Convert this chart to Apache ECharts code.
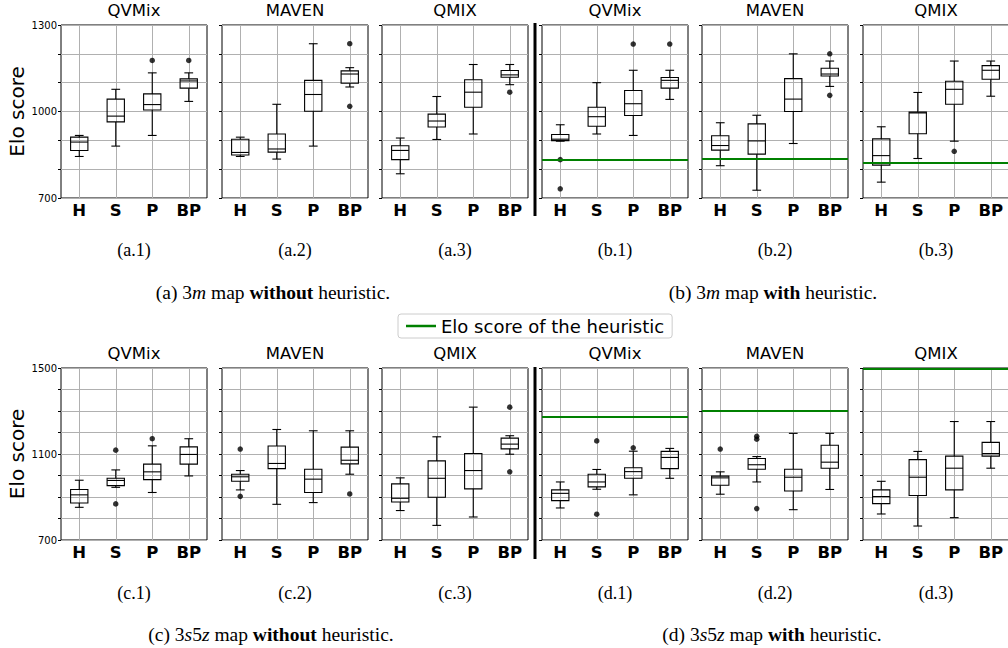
<!DOCTYPE html>
<html><head><meta charset="utf-8">
<script src="https://cdn.jsdelivr.net/npm/echarts@6/dist/echarts.min.js"></script>
<style>html,body{margin:0;padding:0;background:#fff}#c{width:1008px;height:648px}</style>
</head><body><div id="c"></div><script>
const categories = ['H', 'S', 'P', 'BP'];
const algorithms = ['QVMix', 'MAVEN', 'QMIX'];
const topTickLabels = [700, 1000, 1300];
const bottomTickLabels = [700, 1100, 1500];
const topRange = [700, 1300];
const bottomRange = [700, 1500];
const heuristicLegend = 'Elo score of the heuristic';
const panelLabels = ['(a.1)', '(a.2)', '(a.3)', '(b.1)', '(b.2)', '(b.3)', '(c.1)', '(c.2)', '(c.3)', '(d.1)', '(d.2)', '(d.3)'];

// each box: [whisker low, Q1, median, Q3, whisker high]
const a1Boxes = [[844, 865, 894, 911, 917], [880, 964, 984, 1043, 1077], [917, 1005, 1024, 1061, 1134], [1035, 1081, 1106, 1113, 1134]];
const a1Outliers = [['P', 1177], ['BP', 1177]];
const a2Boxes = [[844, 849, 858, 904, 911], [835, 859, 870, 922, 1025], [880, 1001, 1059, 1108, 1235], [1085, 1098, 1130, 1141, 1152]];
const a2Outliers = [['BP', 1235], ['BP', 1018]];
const a3Boxes = [[784, 833, 865, 881, 908], [903, 946, 967, 991, 1052], [922, 1015, 1067, 1110, 1163], [1093, 1119, 1127, 1142, 1163]];
const a3Outliers = [['BP', 1067]];

const b1Boxes = [[897, 899, 904, 920, 954], [922, 949, 982, 1015, 1100], [917, 986, 1027, 1073, 1143], [1042, 1081, 1108, 1118, 1143]];
const b1Outliers = [['H', 833], ['H', 732], ['P', 1234], ['BP', 1234]];
const b2Boxes = [[812, 866, 882, 916, 961], [727, 852, 898, 957, 987], [889, 1000, 1043, 1114, 1200], [1087, 1123, 1130, 1150, 1175]];
const b2Outliers = [['BP', 1200], ['BP', 1056]];
const b3Boxes = [[755, 814, 847, 905, 947], [837, 923, 995, 998, 1066], [897, 1025, 1077, 1105, 1175], [1053, 1112, 1143, 1159, 1175]];
const b3Outliers = [['P', 862]];
const heuristicB = [832, 835, 821];

const c1Boxes = [[852, 872, 910, 935, 978], [945, 953, 977, 987, 1026], [921, 981, 1017, 1053, 1138], [998, 1053, 1098, 1133, 1171]];
const c1Outliers = [['S', 1118], ['S', 868], ['P', 1171]];
const c2Boxes = [[933, 973, 994, 1006, 1023], [866, 1032, 1056, 1137, 1214], [874, 921, 983, 1029, 1208], [1006, 1054, 1071, 1132, 1208]];
const c2Outliers = [['H', 1123], ['H', 903], ['BP', 914]];
const c3Boxes = [[837, 877, 894, 961, 989], [768, 899, 987, 1068, 1180], [807, 938, 1023, 1102, 1318], [1099, 1124, 1146, 1174, 1185]];
const c3Outliers = [['BP', 1318], ['BP', 1017]];

const d1Boxes = [[849, 883, 917, 933, 970], [936, 947, 970, 1006, 1028], [910, 987, 1018, 1036, 1113], [987, 1032, 1084, 1112, 1126]];
const d1Outliers = [['S', 1161], ['S', 820], ['P', 1129]];
const d2Boxes = [[913, 955, 989, 997, 1017], [970, 1029, 1050, 1079, 1088], [841, 928, 992, 1029, 1196], [935, 1034, 1062, 1141, 1196]];
const d2Outliers = [['H', 1123], ['S', 1182], ['S', 1169], ['S', 846]];
const d3Boxes = [[821, 869, 902, 933, 973], [765, 907, 992, 1074, 1112], [804, 933, 1034, 1090, 1251], [1034, 1090, 1102, 1154, 1251]];
const d3Outliers = [];
const heuristicD = [1272, 1303, 1498];

// ---- layout (not data) ----
const colLeft = [61, 222, 382, 542, 702, 863];
const panelW = 146;
const rowTop = [25, 368];
const rowH = [173, 172];
const FONT = 'DejaVu Sans';
const SERIF = 'Liberation Serif';

const panels = [
  [a1Boxes, a1Outliers, null], [a2Boxes, a2Outliers, null], [a3Boxes, a3Outliers, null],
  [b1Boxes, b1Outliers, heuristicB[0]], [b2Boxes, b2Outliers, heuristicB[1]], [b3Boxes, b3Outliers, heuristicB[2]],
  [c1Boxes, c1Outliers, null], [c2Boxes, c2Outliers, null], [c3Boxes, c3Outliers, null],
  [d1Boxes, d1Outliers, heuristicD[0]], [d2Boxes, d2Outliers, heuristicD[1]], [d3Boxes, d3Outliers, heuristicD[2]]
];

function renderBox(params, api) {
  const idx = api.value(0);
  const pMin = api.coord([idx, api.value(1)]);
  const pQ1 = api.coord([idx, api.value(2)]);
  const pMed = api.coord([idx, api.value(3)]);
  const pQ3 = api.coord([idx, api.value(4)]);
  const pMax = api.coord([idx, api.value(5)]);
  const band = api.size([1, 0])[0];
  const hw = band * 0.237, cw = band * 0.12;
  const x = pMed[0];
  const st = { stroke: '#000', lineWidth: 1.1, fill: null };
  return { type: 'group', children: [
    { type: 'rect', shape: { x: x - hw, y: pQ3[1], width: 2 * hw, height: pQ1[1] - pQ3[1] }, style: { stroke: '#000', fill: 'rgba(0,0,0,0)', lineWidth: 1.1 } },
    { type: 'line', shape: { x1: x - hw, y1: pMed[1], x2: x + hw, y2: pMed[1] }, style: st },
    { type: 'line', shape: { x1: x, y1: pQ3[1], x2: x, y2: pMax[1] }, style: st },
    { type: 'line', shape: { x1: x, y1: pQ1[1], x2: x, y2: pMin[1] }, style: st },
    { type: 'line', shape: { x1: x - cw, y1: pMax[1], x2: x + cw, y2: pMax[1] }, style: st },
    { type: 'line', shape: { x1: x - cw, y1: pMin[1], x2: x + cw, y2: pMin[1] }, style: st }
  ] };
}

const grids = [], xAxes = [], yAxes = [], series = [], graphics = [];
panels.forEach((p, i) => {
  const row = Math.floor(i / 6), col = i % 6;
  const range = row === 0 ? topRange : bottomRange;
  const labels = row === 0 ? topTickLabels : bottomTickLabels;
  grids.push({ left: colLeft[col], top: rowTop[row], width: panelW, height: rowH[row], show: true,
    borderColor: '#000', borderWidth: 1, backgroundColor: 'rgba(0,0,0,0)', containLabel: false, outerBoundsMode: 'none' });
  xAxes.push({ gridIndex: i, type: 'category', data: categories,
    axisLine: { show: false }, axisTick: { show: false },
    axisLabel: { fontSize: 16.5, fontWeight: 'bold', color: '#000', fontFamily: FONT, margin: 4 },
    splitLine: { show: true, alignWithLabel: true, lineStyle: { color: '#b0b0b0', width: 1 } } });
  yAxes.push({ gridIndex: i, type: 'value', min: range[0], max: range[1], interval: 100,
    axisLine: { show: false },
    axisTick: { show: true, inside: false, length: 3, lineStyle: { color: '#000' } },
    axisLabel: { show: col === 0, fontSize: 10, color: '#000', fontFamily: FONT, margin: 4,
      formatter: v => labels.includes(v) ? String(v) : '' },
    splitLine: { show: true, lineStyle: { color: '#b0b0b0', width: 1 } },
    name: col === 0 ? 'Elo score' : '', nameLocation: 'middle', nameGap: 34,
    nameTextStyle: { fontSize: 20, fontFamily: FONT, color: '#000' } });
  const boxSeries = { type: 'custom', xAxisIndex: i, yAxisIndex: i, renderItem: renderBox,
    encode: { x: 0, y: [1, 2, 3, 4, 5] }, data: p[0].map((b, k) => [k].concat(b)), z: 3 };
  if (p[2] !== null) {
    boxSeries.markLine = { silent: true, symbol: ['none', 'none'], label: { show: false },
      lineStyle: { color: '#008000', width: 2.2, type: 'solid' }, emphasis: { disabled: true },
      data: [{ yAxis: p[2] }] };
  }
  series.push(boxSeries);
  series.push({ type: 'scatter', xAxisIndex: i, yAxisIndex: i, symbol: 'circle', symbolSize: 5.5,
    itemStyle: { color: '#000' }, data: p[1].map(o => [categories.indexOf(o[0]), o[1]]), z: 4 });
  // panel title
  graphics.push({ type: 'text', x: colLeft[col] + panelW / 2, y: rowTop[row] - 15,
    style: { text: algorithms[col % 3], fontSize: 16.5, fontFamily: FONT, fill: '#000', align: 'center', verticalAlign: 'middle' } });
  // panel sub-caption
  graphics.push({ type: 'text', x: colLeft[col] + panelW / 2, y: row === 0 ? 250 : 593,
    style: { text: panelLabels[i], fontSize: 18, fontFamily: SERIF, fill: '#000', align: 'center', verticalAlign: 'middle' } });
});

series.push({ type: 'line', name: heuristicLegend, xAxisIndex: 0, yAxisIndex: 0, data: [],
  itemStyle: { color: '#008000' }, lineStyle: { color: '#008000' } });

// separators
graphics.push({ type: 'line', shape: { x1: 535, y1: 23, x2: 535, y2: 216 }, style: { stroke: '#000', lineWidth: 3 } });
graphics.push({ type: 'line', shape: { x1: 535, y1: 367, x2: 535, y2: 559 }, style: { stroke: '#000', lineWidth: 3 } });

const CAP = 19.5;
const richStyle = {
  n: { fontFamily: SERIF, fontSize: CAP, fill: '#000', color: '#000' },
  i: { fontFamily: SERIF, fontSize: CAP, fontStyle: 'italic', fill: '#000', color: '#000' },
  b: { fontFamily: SERIF, fontSize: CAP, fontWeight: 'bold', fill: '#000', color: '#000' }
};
const captions = [
  [273, 292, '{n|(a) 3}{i|m}{n| map }{b|without}{n| heuristic.}'],
  [773, 292, '{n|(b) 3}{i|m}{n| map }{b|with}{n| heuristic.}'],
  [271, 634, '{n|(c) 3}{i|s}{n|5}{i|z}{n| map }{b|without}{n| heuristic.}'],
  [772, 634, '{n|(d) 3}{i|s}{n|5}{i|z}{n| map }{b|with}{n| heuristic.}']
];
captions.forEach(c => graphics.push({ type: 'text', x: c[0], y: c[1],
  style: { text: c[2], rich: richStyle, align: 'center', verticalAlign: 'middle', fontFamily: SERIF, fontSize: CAP } }));

const chart = echarts.init(document.getElementById('c'), null, { renderer: 'svg' });
chart.setOption({
  animation: false,
  backgroundColor: '#fff',
  grid: grids, xAxis: xAxes, yAxis: yAxes, series: series,
  legend: { data: [{ name: heuristicLegend, icon: 'rect' }], left: 398, top: 314, itemWidth: 30, itemHeight: 2.5,
    padding: [3, 8, 3, 8], borderColor: '#cccccc', borderWidth: 1, borderRadius: 3, selectedMode: false,
    textStyle: { fontSize: 18, fontFamily: FONT, color: '#000' } },
  graphic: graphics
});
</script></body></html>
